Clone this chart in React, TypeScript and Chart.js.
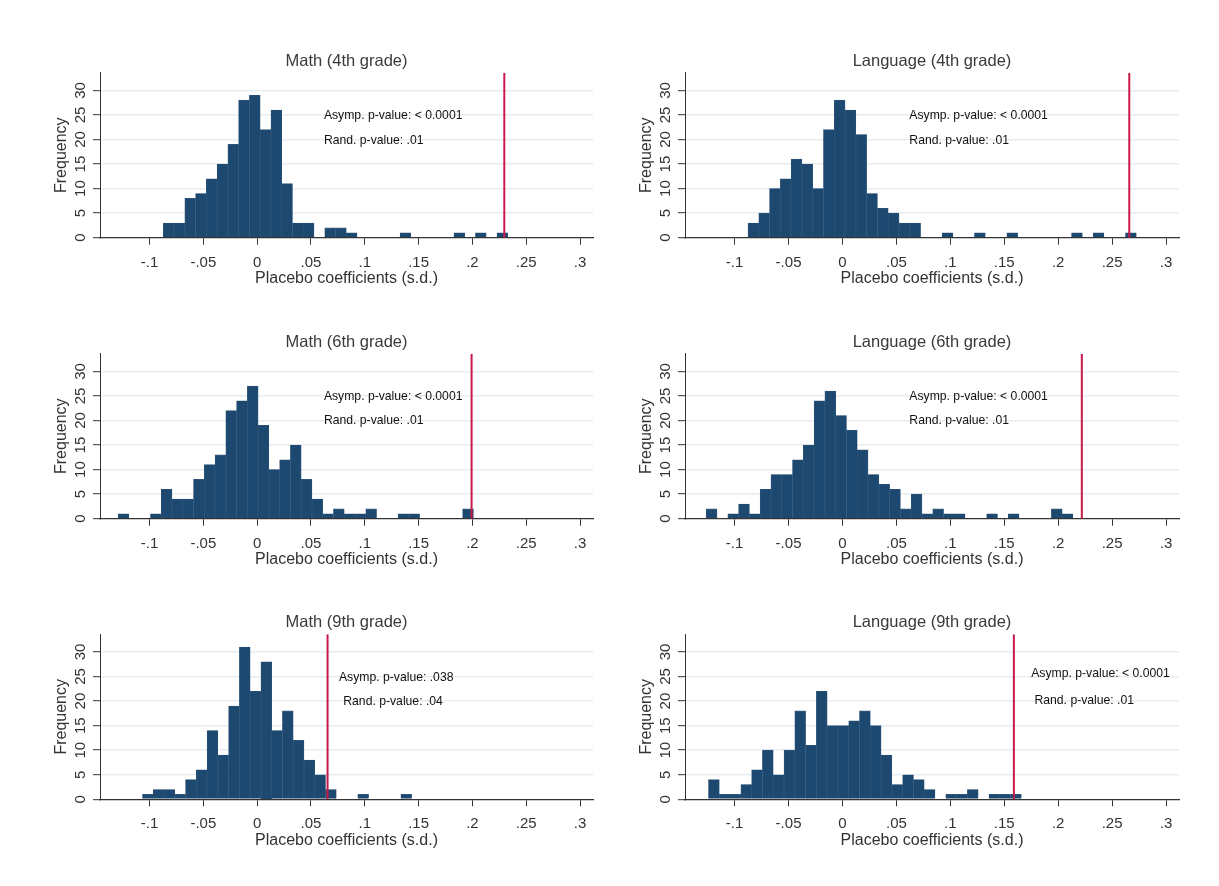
import React, { useEffect, useRef } from 'react';
import { Chart, registerables } from 'chart.js';

Chart.register(...registerables);

const FONT = '"Liberation Sans", Arial, Helvetica, sans-serif';

// ---------- data ----------
const panelTitles = [
  'Math (4th grade)',
  'Language (4th grade)',
  'Math (6th grade)',
  'Language (6th grade)',
  'Math (9th grade)',
  'Language (9th grade)',
];

// histogram counts, consecutive bins of width binWidth starting at binStarts[i]
const math4Counts = [3, 3, 8, 9, 12, 15, 19, 28, 29, 22, 26, 11, 3, 3, 0, 2, 2, 1, 0, 0, 0, 0, 1, 0, 0, 0, 0, 1, 0, 1, 0, 1];
const lang4Counts = [3, 5, 10, 12, 16, 15, 10, 22, 28, 26, 21, 9, 6, 5, 3, 3, 0, 0, 1, 0, 0, 1, 0, 0, 1, 0, 0, 0, 0, 0, 1, 0, 1, 0, 0, 1];
const math6Counts = [1, 0, 0, 1, 6, 4, 4, 8, 11, 13, 22, 24, 27, 19, 10, 12, 15, 8, 4, 1, 2, 1, 1, 2, 0, 0, 1, 1, 0, 0, 0, 0, 2];
const lang6Counts = [2, 0, 1, 3, 1, 6, 9, 9, 12, 15, 24, 26, 21, 18, 14, 9, 7, 6, 2, 5, 1, 2, 1, 1, 0, 0, 1, 0, 1, 0, 0, 0, 2, 1];
const math9Counts = [1, 2, 2, 1, 4, 6, 14, 9, 19, 31, 22, 28, 14, 18, 12, 8, 5, 2, 0, 0, 1, 0, 0, 0, 1];
const lang9Counts = [4, 1, 1, 3, 6, 10, 5, 10, 18, 11, 22, 15, 15, 16, 18, 15, 9, 3, 5, 4, 2, 0, 1, 1, 2, 0, 1, 1, 1];

const panelCounts = [math4Counts, lang4Counts, math6Counts, lang6Counts, math9Counts, lang9Counts];
const binStarts = [-0.0872, -0.0876, -0.1291, -0.1263, -0.1065, -0.1242];
const binWidth = 0.01;

// actual (observed) coefficient, drawn as vertical red line
const observedCoefs = [0.2296, 0.2659, 0.1992, 0.2219, 0.0654, 0.1589];

const asympLabels = [
  'Asymp. p-value: < 0.0001',
  'Asymp. p-value: < 0.0001',
  'Asymp. p-value: < 0.0001',
  'Asymp. p-value: < 0.0001',
  'Asymp. p-value: .038',
  'Asymp. p-value: < 0.0001',
];
const randLabels = [
  'Rand. p-value: .01',
  'Rand. p-value: .01',
  'Rand. p-value: .01',
  'Rand. p-value: .01',
  'Rand. p-value: .04',
  'Rand. p-value: .01',
];
// text placement in data coordinates (x, y)
const asympX = [0.062, 0.062, 0.062, 0.062, 0.076, 0.175];
const asympY = [24.8, 24.8, 24.9, 24.9, 24.8, 25.5];
const randX = [0.062, 0.062, 0.062, 0.062, 0.080, 0.178];
const randY = [19.8, 19.8, 19.9, 19.9, 19.9, 20.0];

const xTickValues = [-0.1, -0.05, 0, 0.05, 0.1, 0.15, 0.2, 0.25, 0.3];
const xTickLabels = ['-.1', '-.05', '0', '.05', '.1', '.15', '.2', '.25', '.3'];
const yTickValues = [0, 5, 10, 15, 20, 25, 30];
const yTickLabels = ['0', '5', '10', '15', '20', '25', '30'];

const X_MIN = -0.146;
const X_MAX = 0.312;
const Y_MAX = 33.6;

// ---------- layout ----------
const CANVAS_W = 570;
const CANVAS_H = 255;
const PLOT_H = 165;
const X_AXIS_H = 52;
const Y_AXIS_W = 60;
const colLefts = [40, 625];
const colPadRight = [17, 16];
const rowCanvasTops = [38, 319, 600];
const rowPlotTops = [72.7, 353.7, 634.3];

const BAR_FILL = '#1d4870';
const BAR_EDGE = '#35597d';
const RED = '#c8194a';
const AXIS = '#333333';
const GRID = '#e5edf1';

const overlayPlugin = {
  id: 'overlay',
  afterDraw(chart: any, _args: any, opts: any) {
    const { ctx, chartArea, scales } = chart;
    ctx.save();
    ctx.fillStyle = '#3a3a3a';
    ctx.font = `16.5px ${FONT}`;
    ctx.textAlign = 'center';
    ctx.textBaseline = 'middle';
    ctx.fillText(opts.title, (chartArea.left + chartArea.right) / 2, chartArea.top - 11.5);
    ctx.font = `12.2px ${FONT}`;
    ctx.fillStyle = '#111111';
    ctx.textAlign = 'left';
    for (const n of opts.notes) {
      ctx.fillText(n.text, scales.x.getPixelForValue(n.x), scales.y.getPixelForValue(n.y));
    }
    ctx.restore();
  },
};

function Panel({ idx }: { idx: number }) {
  const ref = useRef<HTMLCanvasElement | null>(null);
  const col = idx % 2;
  const row = Math.floor(idx / 2);
  const canvasTop = rowCanvasTops[row];
  const padTop = rowPlotTops[row] - canvasTop;
  const padBottom = CANVAS_H - padTop - PLOT_H - X_AXIS_H;

  useEffect(() => {
    if (!ref.current) return;
    const counts = panelCounts[idx];
    const start = binStarts[idx];
    const barData = counts.map((c, i) => ({ x: start + (i + 0.5) * binWidth, y: c }));
    const obs = observedCoefs[idx];
    const chart = new Chart(ref.current, {
      type: 'bar',
      data: {
        datasets: [
          {
            type: 'line',
            data: [
              { x: obs, y: 0 },
              { x: obs, y: Y_MAX },
            ],
            borderColor: RED,
            borderWidth: 2,
            pointRadius: 0,
            fill: false,
            order: 0,
          } as any,
          {
            type: 'bar',
            data: barData,
            backgroundColor: BAR_FILL,
            borderColor: BAR_EDGE,
            borderWidth: 0.6,
            categoryPercentage: 1,
            barPercentage: 1,
            order: 1,
          } as any,
        ],
      },
      options: {
        animation: false,
        responsive: false,
        devicePixelRatio: 1,
        events: [],
        layout: { padding: { left: 0, right: colPadRight[col], top: padTop, bottom: padBottom } },
        plugins: {
          legend: { display: false },
          tooltip: { enabled: false },
          title: { display: false },
          overlay: {
            title: panelTitles[idx],
            notes: [
              { text: asympLabels[idx], x: asympX[idx], y: asympY[idx] },
              { text: randLabels[idx], x: randX[idx], y: randY[idx] },
            ],
          },
        } as any,
        scales: {
          x: {
            type: 'linear',
            min: X_MIN,
            max: X_MAX,
            offset: false,
            afterBuildTicks: (s: any) => {
              s.ticks = xTickValues.map((v) => ({ value: v }));
            },
            afterFit: (s: any) => {
              s.height = X_AXIS_H;
            },
            ticks: {
              callback: (_v: any, i: number) => xTickLabels[i],
              autoSkip: false,
              minRotation: 0,
              maxRotation: 0,
              padding: 9,
              color: AXIS,
              font: { size: 15, family: FONT },
            },
            grid: {
              display: true,
              drawOnChartArea: false,
              drawTicks: true,
              tickLength: 7,
              tickColor: AXIS,
              tickWidth: 1,
              offset: false,
            },
            border: { display: true, color: AXIS, width: 1.3 },
            title: {
              display: true,
              text: 'Placebo coefficients (s.d.)',
              color: AXIS,
              font: { size: 16, family: FONT },
              padding: { top: 0, bottom: 1.5 },
            },
          },
          y: {
            type: 'linear',
            min: 0,
            max: Y_MAX,
            afterBuildTicks: (s: any) => {
              s.ticks = yTickValues.map((v) => ({ value: v }));
            },
            afterFit: (s: any) => {
              s.width = Y_AXIS_W;
            },
            ticks: {
              callback: (_v: any, i: number) => yTickLabels[i],
              autoSkip: false,
              minRotation: 90,
              maxRotation: 90,
              crossAlign: 'center',
              padding: 4,
              color: AXIS,
              font: { size: 15, family: FONT },
            },
            grid: {
              color: (c: any) => (c.tick && c.tick.value === 0 ? 'rgba(0,0,0,0)' : GRID),
              lineWidth: 1.4,
              drawTicks: true,
              tickLength: 7,
              tickColor: AXIS,
              tickWidth: 1,
            },
            border: { display: true, color: AXIS, width: 1 },
            title: {
              display: true,
              text: 'Frequency',
              color: AXIS,
              font: { size: 16, family: FONT },
              padding: { top: 12, bottom: 0 },
            },
          },
        } as any,
      },
      plugins: [overlayPlugin as any],
    });
    return () => chart.destroy();
  }, [idx]);

  return (
    <canvas
      ref={ref}
      width={CANVAS_W}
      height={CANVAS_H}
      style={{
        position: 'absolute',
        left: colLefts[col],
        top: canvasTop,
        width: CANVAS_W,
        height: CANVAS_H,
      }}
    />
  );
}

export default function App() {
  return (
    <div
      style={{
        position: 'absolute',
        left: 0,
        top: 0,
        width: 1219,
        height: 886,
        background: '#ffffff',
        overflow: 'hidden',
      }}
    >
      {panelTitles.map((_, i) => (
        <Panel key={i} idx={i} />
      ))}
    </div>
  );
}
